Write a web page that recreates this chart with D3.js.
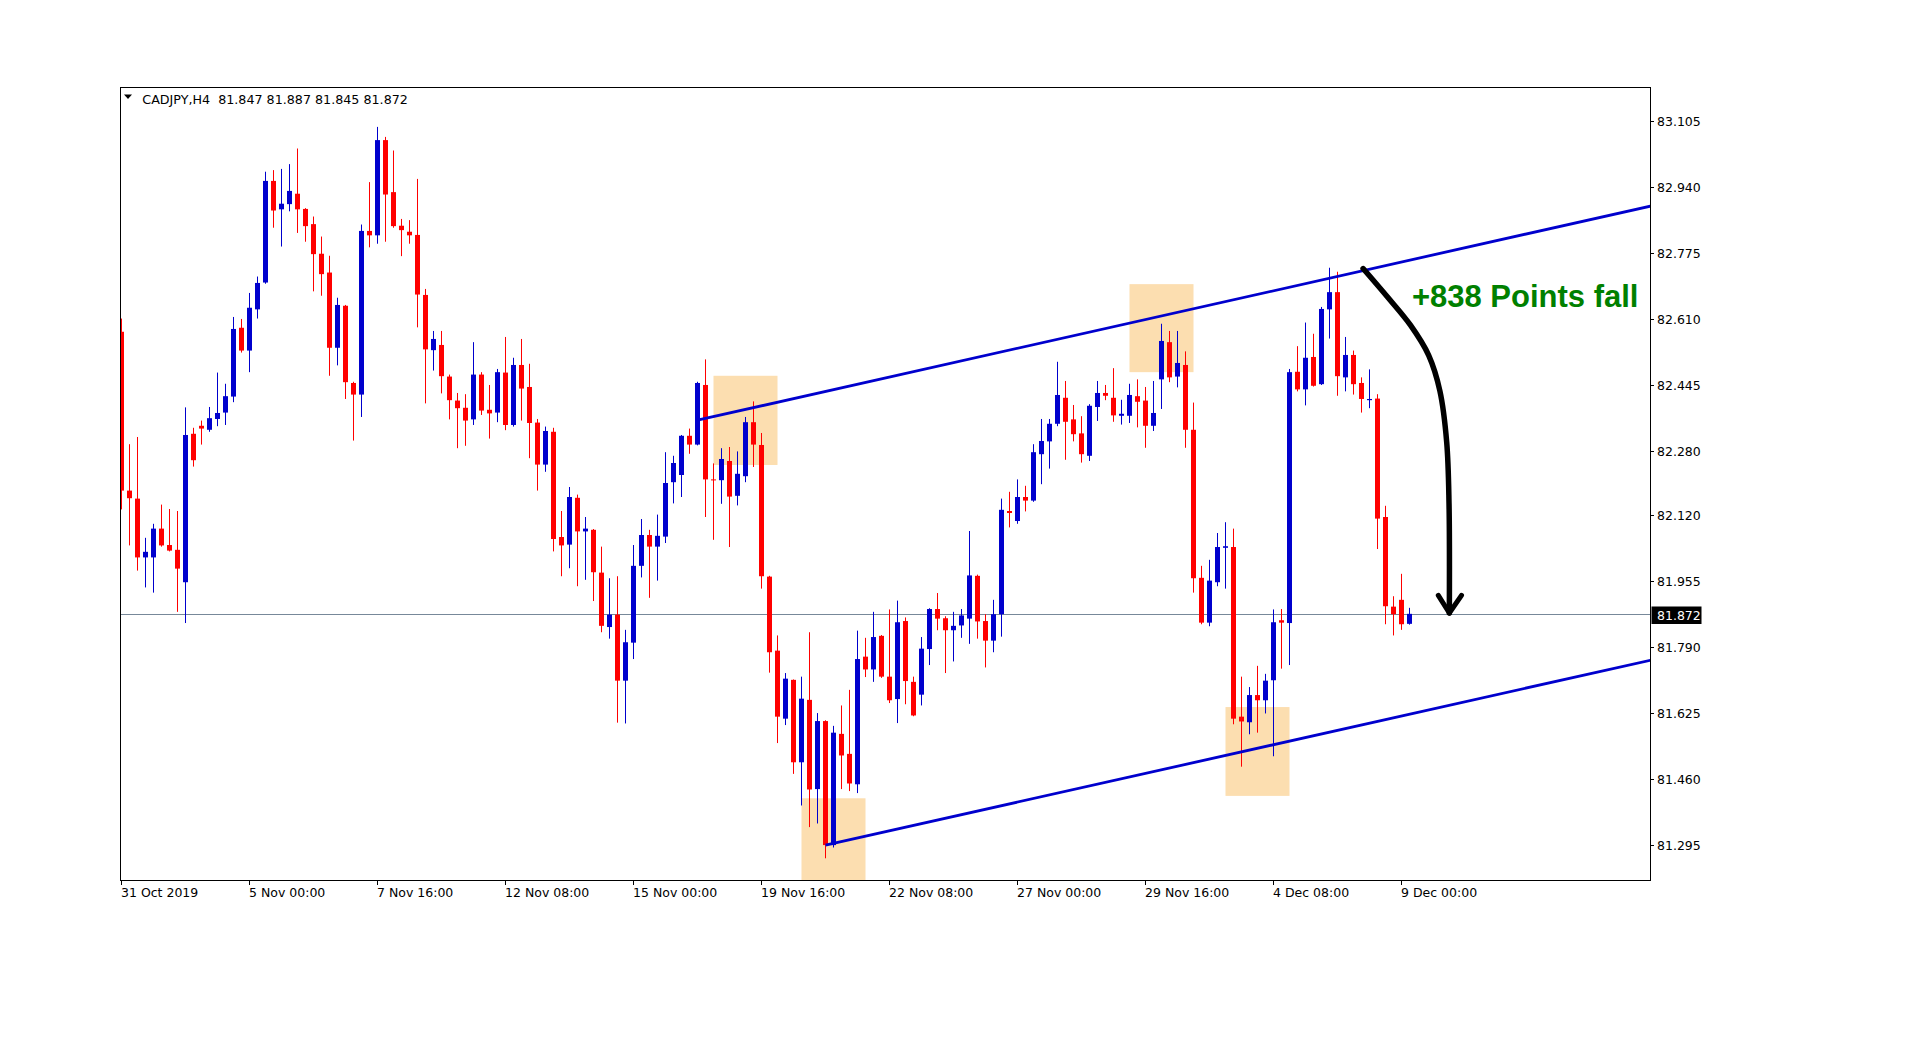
<!DOCTYPE html>
<html>
<head>
<meta charset="utf-8">
<script src="https://cdn.jsdelivr.net/npm/d3@7"></script>
<style>
  html, body { margin: 0; padding: 0; background: #ffffff; }
  svg { display: block; }
</style>
</head>
<body>
<svg id="chart" width="1928" height="1052"></svg>
<script>
// ---------------- DATA ----------------
const symbol = "CADJPY,H4";
const headerValues = ["81.847", "81.887", "81.845", "81.872"];
const currentPrice = 81.872;

const opens = [82.577,82.180,82.160,82.013,82.013,82.085,82.044,82.032,81.951,82.322,
82.342,82.332,82.359,82.375,82.415,82.587,82.530,82.633,82.700,82.954,
82.883,82.896,82.922,82.884,82.846,82.772,82.725,82.537,82.642,82.449,
82.420,82.829,82.818,83.056,82.926,82.842,82.827,82.819,82.669,82.531,
82.544,82.465,82.405,82.387,82.358,82.470,82.382,82.375,82.475,82.344,
82.494,82.439,82.350,82.245,82.327,82.064,82.045,82.162,82.078,82.082,
81.975,81.839,81.870,81.705,81.800,81.992,82.069,82.040,82.065,82.201,
82.219,82.317,82.295,82.444,82.208,82.206,82.254,82.167,82.216,82.351,
82.294,81.965,81.780,81.610,81.707,81.501,81.657,81.434,81.604,81.294,
81.572,81.522,81.446,81.765,81.733,81.817,81.715,81.659,81.854,81.702,
81.670,81.784,81.884,81.861,81.831,81.843,81.860,81.967,81.854,81.805,
81.871,82.129,82.104,82.164,82.155,82.271,82.303,82.347,82.412,82.358,
82.323,82.267,82.389,82.424,82.412,82.367,82.367,82.416,82.405,82.342,
82.458,82.551,82.465,82.494,82.332,81.962,81.850,81.951,82.037,82.039,
81.615,81.601,81.669,81.656,81.706,81.856,81.849,82.477,82.433,82.514,
82.446,82.633,82.676,82.463,82.519,82.449,82.406,82.410,82.114,81.890,
81.907,81.847];

const highs = [82.610,82.296,82.314,82.062,82.097,82.145,82.134,82.129,82.388,82.337,
82.355,82.389,82.475,82.447,82.614,82.609,82.674,82.715,82.977,82.981,
82.984,82.996,83.035,82.886,82.865,82.815,82.767,82.662,82.644,82.452,
82.845,82.951,83.089,83.064,83.030,82.859,82.856,82.959,82.684,82.579,
82.579,82.470,82.424,82.421,82.551,82.476,82.444,82.484,82.564,82.512,
82.559,82.497,82.359,82.340,82.337,82.129,82.189,82.170,82.114,82.084,
82.040,81.961,81.966,81.832,82.044,82.109,82.082,82.120,82.276,82.267,
82.319,82.335,82.452,82.508,82.248,82.286,82.289,82.278,82.364,82.403,
82.324,81.967,81.818,81.724,81.708,81.715,81.826,81.624,81.606,81.592,
81.643,81.682,81.830,81.812,81.877,81.819,81.883,81.905,81.863,81.715,
81.814,81.886,81.924,81.866,81.877,81.884,82.079,81.970,81.871,81.907,
82.160,82.177,82.208,82.192,82.296,82.359,82.359,82.502,82.454,82.394,
82.366,82.396,82.454,82.444,82.486,82.407,82.447,82.458,82.439,82.454,
82.597,82.579,82.579,82.528,82.400,81.992,82.007,82.074,82.101,82.085,
81.715,81.689,81.742,81.722,81.883,81.884,82.484,82.541,82.600,82.572,
82.639,82.737,82.727,82.564,82.530,82.463,82.483,82.421,82.142,81.916,
81.972,81.887];

const lows = [82.133,82.043,81.980,81.938,81.925,82.040,82.028,81.877,81.849,82.240,
82.295,82.327,82.341,82.344,82.401,82.525,82.476,82.610,82.697,82.837,
82.790,82.878,82.824,82.802,82.678,82.667,82.467,82.493,82.409,82.305,
82.364,82.788,82.797,82.802,82.837,82.766,82.797,82.588,82.398,82.480,
82.423,82.358,82.286,82.292,82.344,82.369,82.310,82.351,82.331,82.340,
82.355,82.261,82.180,82.227,82.028,81.966,81.986,81.941,81.957,81.904,
81.826,81.810,81.600,81.598,81.759,81.963,81.912,81.955,82.049,82.148,
82.164,82.272,82.293,82.114,82.057,82.147,82.039,82.143,82.201,82.239,
81.935,81.725,81.549,81.594,81.472,81.393,81.339,81.348,81.261,81.288,
81.434,81.429,81.424,81.714,81.702,81.712,81.649,81.599,81.646,81.616,
81.643,81.744,81.831,81.724,81.753,81.812,81.797,81.810,81.738,81.776,
81.815,82.088,82.097,82.128,82.152,82.196,82.235,82.341,82.257,82.303,
82.250,82.254,82.354,82.406,82.352,82.345,82.349,82.338,82.287,82.329,
82.384,82.451,82.438,82.287,81.925,81.846,81.841,81.941,81.935,81.596,
81.490,81.571,81.575,81.623,81.516,81.735,81.744,82.428,82.393,82.440,
82.444,82.560,82.417,82.428,82.420,82.375,82.386,82.034,81.846,81.818,
81.832,81.845];

const closes = [82.180,82.161,82.013,82.027,82.085,82.043,82.030,81.985,82.319,82.256,
82.335,82.361,82.374,82.416,82.584,82.530,82.637,82.699,82.954,82.880,
82.897,82.929,82.883,82.841,82.771,82.721,82.537,82.644,82.451,82.420,
82.829,82.818,83.056,82.920,82.841,82.831,82.818,82.670,82.533,82.559,
82.466,82.406,82.386,82.355,82.470,82.380,82.373,82.476,82.344,82.494,
82.435,82.349,82.245,82.329,82.059,82.043,82.164,82.078,82.085,81.976,
81.842,81.870,81.705,81.801,81.992,82.069,82.040,82.067,82.199,82.249,
82.317,82.295,82.449,82.208,82.206,82.259,82.165,82.222,82.351,82.295,
81.966,81.776,81.615,81.710,81.501,81.660,81.433,81.604,81.294,81.575,
81.518,81.448,81.759,81.733,81.814,81.715,81.656,81.851,81.704,81.618,
81.785,81.884,81.860,81.831,81.842,81.868,81.968,81.853,81.805,81.871,
82.132,82.124,82.164,82.155,82.276,82.304,82.347,82.419,82.352,82.321,
82.271,82.392,82.424,82.417,82.368,82.372,82.419,82.402,82.342,82.374,
82.554,82.463,82.499,82.332,81.961,81.850,81.955,82.039,82.041,81.610,
81.603,81.669,81.656,81.705,81.851,81.850,82.476,82.433,82.512,82.442,
82.634,82.676,82.466,82.519,82.446,82.409,82.409,82.110,81.891,81.871,
81.846,81.872];

// price axis tick labels
const priceTicks = ["83.105","82.940","82.775","82.610","82.445","82.280",
                    "82.120","81.955","81.790","81.625","81.460","81.295"];

// time axis labels and the bar index each one sits on
const timeLabels = ["31 Oct 2019","5 Nov 00:00","7 Nov 16:00","12 Nov 08:00","15 Nov 00:00",
                    "19 Nov 16:00","22 Nov 08:00","27 Nov 00:00","29 Nov 16:00","4 Dec 08:00","9 Dec 00:00"];
const timeLabelBars = [0,16,32,48,64,80,96,112,128,144,160];

// highlight zones: first bar, last bar, top price, bottom price
const zoneStart  = [74, 85, 126, 138];
const zoneEnd    = [82, 93, 134, 146];
const zoneTop    = [82.467, 81.411, 82.696, 81.639];
const zoneBottom = [82.244, 81.150, 82.476, 81.417];

// channel lines: anchor bar, anchor price, end bar, end price
const channelBar0   = [72, 88];
const channelPrice0 = [82.356, 81.294];
const channelBar1   = [191.1, 191.1];
const channelPrice1 = [82.891, 81.756];

// curved arrow (bar index, price)
const arrowBars   = [155.2, 158.2, 161.1, 163.4, 164.8, 165.65, 165.94, 165.98];
const arrowPrices = [82.735, 82.665, 82.594, 82.518, 82.429, 82.301, 82.148, 81.874];
const arrowHeadBars   = [164.6, 165.98, 167.5];
const arrowHeadPrices = [81.918, 81.874, 81.918];

const annotationText = "+838 Points fall";
const annotationBar = 161.3;
const annotationPrice = 82.638;

// ---------------- DRAW ----------------
const svg = d3.select("#chart");
const plot = { left: 120.5, top: 87.5, right: 1650.5, bottom: 880.5 };

const x = d3.scaleLinear().domain([0, 161]).range([121.5, 1409.5]);
const y = d3.scaleLinear().domain([81.295, 83.105]).range([844.7, 120.5]);

const bullColor = "#0000CD";
const bearColor = "#FF0000";
const font = "'DejaVu Sans', Verdana, sans-serif";

svg.append("rect").attr("width", 1928).attr("height", 1052).attr("fill", "#ffffff");

svg.append("defs").append("clipPath").attr("id", "plotClip")
  .append("rect")
  .attr("x", plot.left + 0.5).attr("y", plot.top + 0.5)
  .attr("width", plot.right - plot.left - 1).attr("height", plot.bottom - plot.top - 1);

const g = svg.append("g").attr("clip-path", "url(#plotClip)");

// zones
g.selectAll("rect.zone").data(zoneStart).join("rect")
  .attr("class", "zone")
  .attr("x", (d, i) => x(zoneStart[i]))
  .attr("width", (d, i) => x(zoneEnd[i]) - x(zoneStart[i]))
  .attr("y", (d, i) => y(zoneTop[i]))
  .attr("height", (d, i) => y(zoneBottom[i]) - y(zoneTop[i]))
  .attr("fill", "#FCDEB0");

// current price line
const cpY = Math.round(y(currentPrice)) + 0.5;
g.append("line")
  .attr("x1", plot.left).attr("x2", plot.right)
  .attr("y1", cpY).attr("y2", cpY)
  .attr("stroke", "#778899").attr("stroke-width", 1);

// candles
const bars = d3.range(opens.length).map(i => ({
  i, o: opens[i], h: highs[i], l: lows[i], c: closes[i]
}));

const candle = g.selectAll("g.candle").data(bars).join("g").attr("class", "candle");
candle.append("line")
  .attr("x1", d => x(d.i)).attr("x2", d => x(d.i))
  .attr("y1", d => y(d.h)).attr("y2", d => y(d.l))
  .attr("stroke", d => d.c >= d.o ? bullColor : bearColor)
  .attr("stroke-width", 1);
candle.append("rect")
  .attr("x", d => x(d.i) - 2.5)
  .attr("width", 5)
  .attr("y", d => y(Math.max(d.o, d.c)))
  .attr("height", d => Math.max(1, y(Math.min(d.o, d.c)) - y(Math.max(d.o, d.c))))
  .attr("fill", d => d.c >= d.o ? bullColor : bearColor);

// channel lines
g.selectAll("line.channel").data(channelBar0).join("line")
  .attr("class", "channel")
  .attr("x1", (d, i) => x(channelBar0[i]))
  .attr("y1", (d, i) => y(channelPrice0[i]))
  .attr("x2", (d, i) => x(channelBar1[i]))
  .attr("y2", (d, i) => y(channelPrice1[i]))
  .attr("stroke", bullColor).attr("stroke-width", 2.8);

// curved arrow
const arrowPts = arrowBars.map((b, i) => [x(b), y(arrowPrices[i])]);
g.append("path")
  .attr("d", d3.line().curve(d3.curveCatmullRom.alpha(0.5))(arrowPts))
  .attr("fill", "none").attr("stroke", "#000000")
  .attr("stroke-width", 5.5).attr("stroke-linecap", "round");
const headPts = arrowHeadBars.map((b, i) => [x(b), y(arrowHeadPrices[i])]);
g.append("path")
  .attr("d", d3.line()(headPts))
  .attr("fill", "none").attr("stroke", "#000000")
  .attr("stroke-width", 5).attr("stroke-linecap", "round").attr("stroke-linejoin", "round");

// annotation
g.append("text")
  .attr("x", x(annotationBar)).attr("y", y(annotationPrice))
  .attr("font-family", "'Liberation Sans', Arial, sans-serif")
  .attr("font-weight", "bold").attr("font-size", 31)
  .attr("fill", "#008000")
  .text(annotationText);

// header
svg.append("path")
  .attr("d", d3.line()([[124, 94.5], [132, 94.5], [128, 99]]) + "Z")
  .attr("fill", "#000000");
svg.append("text")
  .attr("x", 142.3).attr("y", 104)
  .attr("font-family", font).attr("font-size", 12.7)
  .style("white-space", "pre")
  .attr("fill", "#000000")
  .text(symbol + "  " + headerValues.join(" "));

// frame
svg.append("rect")
  .attr("x", plot.left).attr("y", plot.top)
  .attr("width", plot.right - plot.left).attr("height", plot.bottom - plot.top)
  .attr("fill", "none").attr("stroke", "#000000").attr("stroke-width", 1);

// price axis
const pAxis = svg.append("g");
priceTicks.forEach(t => {
  const yy = Math.round(y(+t)) + 0.5;
  pAxis.append("line")
    .attr("x1", plot.right).attr("x2", plot.right + 3.5)
    .attr("y1", yy).attr("y2", yy)
    .attr("stroke", "#000000");
  pAxis.append("text")
    .attr("x", 1657).attr("y", yy + 4.5)
    .attr("font-family", font).attr("font-size", 12.5)
    .attr("fill", "#000000")
    .text(t);
});

// current price tag
pAxis.append("rect")
  .attr("x", plot.right + 1).attr("y", cpY - 8)
  .attr("width", 50).attr("height", 17.5)
  .attr("fill", "#000000");
pAxis.append("text")
  .attr("x", 1657).attr("y", cpY + 5)
  .attr("font-family", font).attr("font-size", 12.5)
  .attr("fill", "#ffffff")
  .text(currentPrice.toFixed(3));

// time axis
const tAxis = svg.append("g");
timeLabels.forEach((lab, k) => {
  const xx = x(timeLabelBars[k]);
  tAxis.append("line")
    .attr("x1", xx).attr("x2", xx)
    .attr("y1", plot.bottom).attr("y2", plot.bottom + 4.5)
    .attr("stroke", "#000000");
  tAxis.append("text")
    .attr("x", xx - 0.5).attr("y", 897)
    .attr("font-family", font).attr("font-size", 12.5)
    .attr("fill", "#000000")
    .text(lab);
});
</script>
</body>
</html>
